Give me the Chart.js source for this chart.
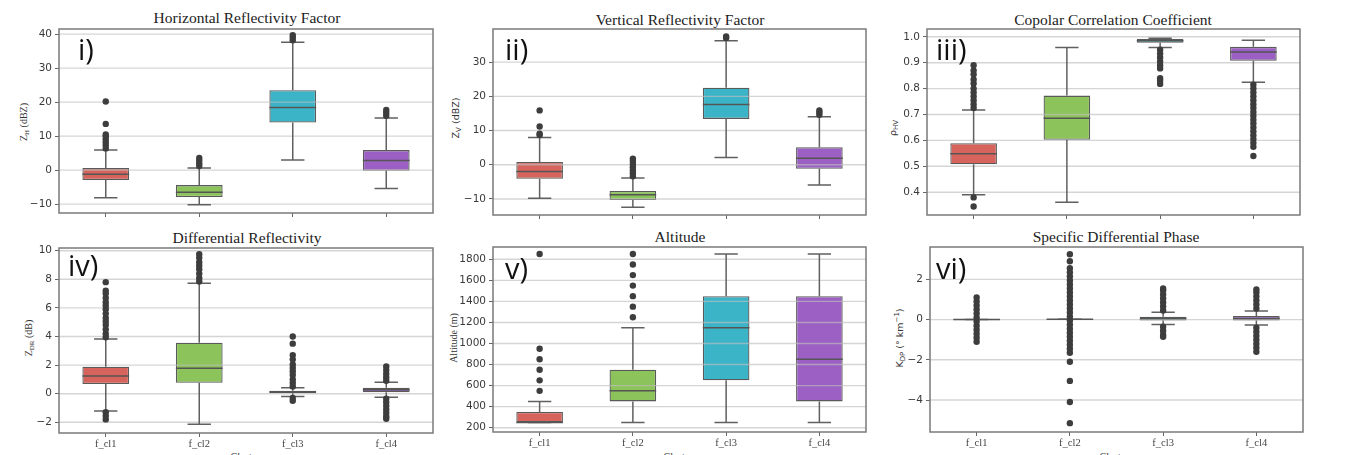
<!DOCTYPE html>
<html>
<head>
<meta charset="utf-8">
<script src="https://cdn.jsdelivr.net/npm/chart.js@4.4.1/dist/chart.umd.min.js"></script>
<style>
html, body { margin: 0; padding: 0; background: #fff; width: 1356px; height: 455px; overflow: hidden; position: relative; }
canvas { position: absolute; }
.title { position: absolute; font-family: 'Liberation Serif', serif; font-size: 15.5px; color: #222; transform: translateX(-50%); white-space: nowrap; line-height: 1; }
.ylab { position: absolute; font-size: 10px; color: #333; white-space: nowrap; line-height: 1; transform: translate(-50%, -50%) rotate(-90deg); }
.ylab sub { font-size: 7px; vertical-align: -2px; }
.ylab sup { font-size: 7px; vertical-align: 4px; }
.serif { font-family: 'Liberation Serif', serif; }
.sans { font-family: 'DejaVu Sans', sans-serif; font-size: 9.5px; }
.num { position: absolute; font-family: 'Open Sans', sans-serif; font-size: 29px; color: #111; line-height: 1; }
.clus { position: absolute; font-family: 'Liberation Serif', serif; font-size: 10px; color: #333; transform: translateX(-50%); }
</style>
</head>
<body>

<div class="title" style="left:247px;top:10px">Horizontal Reflectivity Factor</div>
<div class="title" style="left:680px;top:12px">Vertical Reflectivity Factor</div>
<div class="title" style="left:1113px;top:12px">Copolar Correlation Coefficient</div>
<div class="title" style="left:247px;top:230px">Differential Reflectivity</div>
<div class="title" style="left:680px;top:229px">Altitude</div>
<div class="title" style="left:1116px;top:229px">Specific Differential Phase</div>

<div class="ylab serif" style="left:25px;top:122px">Z<sub>H</sub> (dBZ)</div>
<div class="ylab sans" style="left:457px;top:118px">Z<sub>V</sub> (dBZ)</div>
<div class="ylab sans" style="left:894px;top:128px">ρ<sub>HV</sub></div>
<div class="ylab serif" style="left:30px;top:338px">Z<sub>DR</sub> (dB)</div>
<div class="ylab serif" style="left:454px;top:338px">Altitude (m)</div>
<div class="ylab sans" style="left:900px;top:338px">K<sub>DP</sub> (° km<sup>−1</sup>)</div>

<div class="clus" style="left:247px;top:451px">Clusters</div>
<div class="clus" style="left:680px;top:451px">Clusters</div>
<div class="clus" style="left:1116px;top:451px">Clusters</div>

<script>
const clusters = ['f_cl1', 'f_cl2', 'f_cl3', 'f_cl4'];

// each box: [lower whisker, q1, median, q3, upper whisker]
const zhBox = [[-8.1, -2.9, -1.2, 0.6, 5.9], [-10.2, -7.9, -6.5, -4.4, 0.6], [3.0, 14.0, 18.4, 23.5, 37.6], [-5.4, -0.2, 2.8, 5.9, 15.3]];
const zhOut = [[6.4, 7.3, 8.2, 9.1, 10.0, 10.5, 13.6, 20.2], [1.2, 2.0, 2.8, 3.6], [38.2, 39.0, 39.7], [16.0, 16.9, 17.7]];
const zhTicks = [-10, 0, 10, 20, 30, 40];

const zvBox = [[-9.8, -4.1, -2.0, 0.8, 8.0], [-12.4, -10.3, -8.8, -7.65, -3.9], [2.1, 13.4, 17.6, 22.5, 36.3], [-5.9, -1.2, 1.9, 5.1, 14.0]];
const zvOut = [[8.7, 9.1, 11.2, 15.9], [-3.4, -2.5, -1.6, -0.7, 0.2, 1.1, 1.8], [37.1, 37.5], [14.6, 15.3, 15.9]];
const zvTicks = [-10, 0, 10, 20, 30];

const rhoBox = [[0.390, 0.508, 0.548, 0.589, 0.717], [0.361, 0.602, 0.685, 0.773, 0.959], [0.959, 0.977, 0.985, 0.991, 0.994], [0.824, 0.907, 0.941, 0.961, 0.987]];
const rhoOut = [
  [0.725, 0.74, 0.755, 0.77, 0.785, 0.80, 0.82, 0.835, 0.855, 0.87, 0.89, 0.38, 0.345],
  [],
  [0.95, 0.935, 0.92, 0.905, 0.89, 0.878, 0.84, 0.83, 0.818],
  [0.815, 0.80, 0.785, 0.77, 0.755, 0.74, 0.725, 0.71, 0.695, 0.68, 0.665, 0.65, 0.635, 0.62, 0.605, 0.59, 0.575, 0.54]
];
const rhoTicks = [0.4, 0.5, 0.6, 0.7, 0.8, 0.9, 1.0];

const zdrBox = [[-1.21, 0.68, 1.24, 1.89, 3.83], [-2.14, 0.77, 1.78, 3.57, 7.72], [-0.2, 0.03, 0.12, 0.21, 0.42], [-0.25, 0.1, 0.28, 0.42, 0.80]];
const zdrOut = [
  [3.95, 4.2, 4.5, 4.8, 5.05, 5.3, 5.6, 5.9, 6.15, 6.4, 6.7, 7.0, 7.2, 7.8, -1.3, -1.55, -1.8],
  [7.85, 8.1, 8.4, 8.7, 8.95, 9.2, 9.5, 9.75],
  [0.5, 0.75, 1.0, 1.3, 1.55, 1.8, 2.05, 2.4, 2.7, 3.5, 4.0, -0.3, -0.5],
  [0.9, 1.15, 1.4, 1.65, 1.9, -0.35, -0.6, -0.85, -1.1, -1.35, -1.6, -1.75]
];
const zdrTicks = [-2, 0, 2, 4, 6, 8, 10];

const altBox = [[250, 250, 250, 350, 450], [250, 450, 550, 750, 1150], [250, 650, 1150, 1450, 1850], [250, 450, 850, 1450, 1850]];
const altOut = [[550, 650, 750, 850, 950, 1850], [1250, 1350, 1450, 1550, 1650, 1750, 1850], [], []];
const altTicks = [200, 400, 600, 800, 1000, 1200, 1400, 1600, 1800];

const kdpBox = [[0, 0, 0, 0, 0], [0.02, 0.02, 0.02, 0.02, 0.02], [-0.24, -0.05, 0.05, 0.14, 0.36], [-0.27, -0.05, 0.06, 0.18, 0.43]];
const kdpOut = [
  [-1.1, -0.9, -0.7, -0.5, -0.3, -0.1, 0.1, 0.3, 0.5, 0.7, 0.9, 1.1],
  [-1.65, -1.45, -1.25, -1.05, -0.85, -0.65, -0.45, -0.25, -0.05, 0.15, 0.35, 0.55, 0.75, 0.95, 1.15, 1.35, 1.55, 1.75, 1.95, 2.15, 2.35, 2.55, 2.9, 3.25, -2.1, -3.05, -4.1, -5.15],
  [0.45, 0.65, 0.85, 1.05, 1.25, 1.45, 1.55, -0.35, -0.55, -0.75, -0.85],
  [0.55, 0.75, 0.95, 1.15, 1.35, 1.5, -0.4, -0.6, -0.8, -1.0, -1.2, -1.4, -1.6]
];
const kdpTicks = [-4, -2, 0, 2];

const boxColors = ['#d6645c', '#8cc35b', '#3bb4c8', '#9c60c4'];

// plot area of each panel on the page: left, top, right, bottom
const panels = [
  { box: zhBox, out: zhOut, ticks: zhTicks, area: [59, 29, 433, 213], min: -12.6, max: 41.5, num: 'i)', numAt: [78, 34], bottom: false },
  { box: zvBox, out: zvOut, ticks: zvTicks, area: [493, 29, 866, 215], min: -14.7, max: 39.7, num: 'ii)', numAt: [505, 34], bottom: false },
  { box: rhoBox, out: rhoOut, ticks: rhoTicks, area: [927, 29, 1300, 215], min: 0.312, max: 1.03, num: 'iii)', numAt: [936, 34], bottom: false, fixed: 1 },
  { box: zdrBox, out: zdrOut, ticks: zdrTicks, area: [59, 248, 433, 433], min: -2.75, max: 10.19, num: 'iv)', numAt: [68, 250], bottom: true },
  { box: altBox, out: altOut, ticks: altTicks, area: [493, 247, 866, 432], min: 159, max: 1917, num: 'v)', numAt: [505, 253], bottom: true },
  { box: kdpBox, out: kdpOut, ticks: kdpTicks, area: [930, 247, 1303, 432], min: -5.59, max: 3.61, num: 'vi)', numAt: [936, 253], bottom: true }
];

// whiskers, caps, medians and the grid (grid sits over box fill, under the lines)
const boxParts = {
  id: 'boxParts',
  afterDatasetDraw(chart, args) {
    if (args.index !== 0) return;
    const { ctx, chartArea: a, scales: { x, y } } = chart;
    const stats = chart.options.plugins.boxParts.stats;
    const bars = chart.getDatasetMeta(0).data;
    ctx.save();
    ctx.strokeStyle = 'rgba(190,190,190,0.65)';
    ctx.lineWidth = 1.4;
    y.ticks.forEach(t => {
      const py = y.getPixelForValue(t.value);
      ctx.beginPath(); ctx.moveTo(a.left, py); ctx.lineTo(a.right, py); ctx.stroke();
    });
    ctx.strokeStyle = '#606060';
    ctx.lineWidth = 1.5;
    stats.forEach((s, i) => {
      const cx = x.getPixelForValue(i);
      const w = bars[i].width;
      const lo = y.getPixelForValue(s[0]), q1 = y.getPixelForValue(s[1]);
      const md = y.getPixelForValue(s[2]), q3 = y.getPixelForValue(s[3]);
      const hi = y.getPixelForValue(s[4]);
      ctx.beginPath();
      ctx.moveTo(cx, q1); ctx.lineTo(cx, lo);
      ctx.moveTo(cx, q3); ctx.lineTo(cx, hi);
      ctx.moveTo(cx - w / 4, lo); ctx.lineTo(cx + w / 4, lo);
      ctx.moveTo(cx - w / 4, hi); ctx.lineTo(cx + w / 4, hi);
      ctx.stroke();
      ctx.beginPath();
      ctx.strokeStyle = '#555';
      ctx.moveTo(cx - w / 2, md); ctx.lineTo(cx + w / 2, md);
      ctx.stroke();
      ctx.strokeStyle = '#606060';
    });
    ctx.restore();
  },
  afterDraw(chart) {
    const { ctx, chartArea: a } = chart;
    ctx.save();
    ctx.strokeStyle = '#7a7a7a';
    ctx.lineWidth = 1.5;
    ctx.strokeRect(a.left, a.top, a.width, a.height);
    ctx.restore();
  }
};

const fmt = (v, fixed) => (fixed ? v.toFixed(fixed) : String(v)).replace('-', '\u2212');

panels.forEach(p => {
  const [L, T, R, B] = p.area;
  const yW = 34, padTop = 12, padRight = 10;
  const xH = p.bottom ? 20 : 10;
  const cv = document.createElement('canvas');
  cv.width = (R - L) + yW + padRight;
  cv.height = (B - T) + padTop + xH;
  cv.style.left = (L - yW) + 'px';
  cv.style.top = (T - padTop) + 'px';
  document.body.appendChild(cv);

  const n = document.createElement('div');
  n.className = 'num';
  n.textContent = p.num;
  n.style.left = p.numAt[0] + 'px';
  n.style.top = p.numAt[1] + 'px';
  document.body.appendChild(n);

  const outPts = [];
  p.out.forEach((vals, i) => vals.forEach(v => outPts.push({ x: clusters[i], y: v })));

  new Chart(cv, {
    type: 'bar',
    data: {
      labels: clusters,
      datasets: [
        {
          data: p.box.map(s => [s[1], s[3]]),
          backgroundColor: boxColors,
          borderColor: '#5a5a5a',
          borderWidth: 1.3,
          borderSkipped: false,
          barPercentage: 0.5,
          categoryPercentage: 1,
          order: 2
        },
        {
          type: 'line',
          data: outPts,
          showLine: false,
          pointStyle: 'circle',
          pointRadius: 3.2,
          pointBorderWidth: 0,
          pointBackgroundColor: '#3d3d3d',
          order: 1
        }
      ]
    },
    options: {
      responsive: false,
      animation: false,
      layout: { padding: { top: padTop, right: padRight, left: 0, bottom: 0 } },
      plugins: { legend: { display: false }, tooltip: { enabled: false }, boxParts: { stats: p.box } },
      scales: {
        x: {
          afterFit: s => { s.height = xH; },
          border: { display: false },
          grid: { drawOnChartArea: false, offset: false, tickLength: 4, tickColor: '#666' },
          ticks: {
            display: p.bottom,
            padding: 1,
            color: '#444',
            font: { family: 'Liberation Serif', size: 10.5 }
          }
        },
        y: {
          min: p.min,
          max: p.max,
          afterFit: s => { s.width = yW; },
          afterBuildTicks: s => { s.ticks = p.ticks.map(v => ({ value: v })); },
          border: { display: false },
          grid: { drawOnChartArea: false, tickLength: 4, tickColor: '#666' },
          ticks: {
            padding: 3,
            color: '#3a3a3a',
            font: { family: 'DejaVu Sans', size: 10.5 },
            callback: v => fmt(v, p.fixed)
          }
        }
      }
    },
    plugins: [boxParts]
  });
});
</script>
</body>
</html>
